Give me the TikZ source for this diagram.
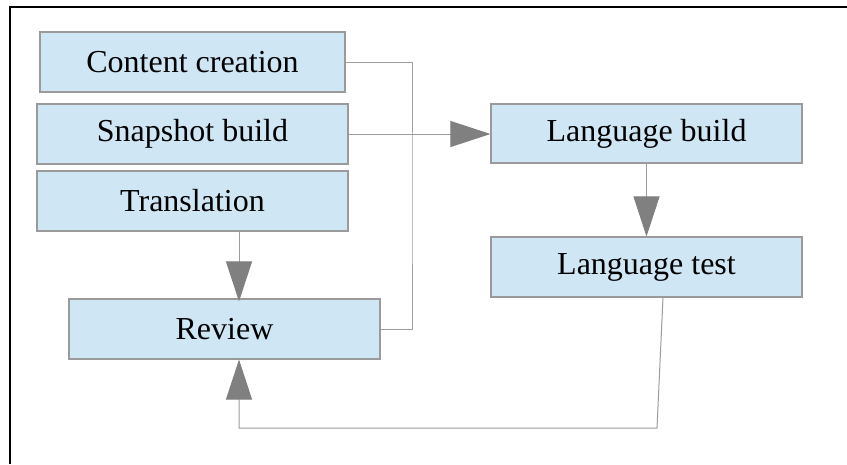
\documentclass[tikz,border=0pt]{standalone}
\usepackage{fontspec}
\setmainfont{Liberation Serif}
\newfontfamily\boxfont{Liberation Serif}
\usetikzlibrary{arrows.meta,calc}
\definecolor{boxfill}{HTML}{CFE6F4}
\definecolor{boxline}{HTML}{9A9A9A}
\definecolor{conn}{HTML}{9C9C9C}
\definecolor{tipc}{HTML}{808080}
\begin{document}
\begin{tikzpicture}[x=1pt,y=-1pt,
  stepbox/.style={draw=boxline,fill=boxfill,line width=1.1pt,minimum width=311pt,minimum height=60pt,inner sep=0pt,font=\boxfont\fontsize{32}{38}\selectfont},
  conline/.style={draw=conn,line width=1pt},
  arr/.style={conline,-{Triangle[length=40pt,width=26pt,fill=tipc,color=tipc]}}]
\useasboundingbox (0,0) rectangle (847,464);
\fill[white] (0,0) rectangle (847,464);
\draw[black,line width=1.4pt] (10,464) -- (10,7) -- (847,7);
\node[stepbox,minimum width=305pt] (cc) at (192.5,62) {Content creation};
\node[stepbox] (sb) at (192.5,134) {Snapshot build};
\node[stepbox] (tr) at (192.5,201) {Translation};
\node[stepbox] (rv) at (224.5,329) {Review};
\node[stepbox,minimum height=59pt] (lb) at (646.5,133.5) {Language build};
\node[stepbox] (lt) at (646.5,267) {Language test};
\coordinate (j) at (412,200);
\coordinate (a) at (239,0);
\coordinate (b1) at (663,0);
\coordinate (b2) at (657,428);
\draw[conline] (cc.east) -| (j) |- (rv.east);
\draw[arr] (sb.east) -- (sb.east -| lb.west);
\draw[arr] (tr.south -| a) -- ($(rv.north -| a)+(0,3)$);
\draw[arr] (lb.south) -- (lt.north);
\draw[arr] (lt.south -| b1) -- (b2) -| (rv.south -| a);
\end{tikzpicture}
\end{document}
